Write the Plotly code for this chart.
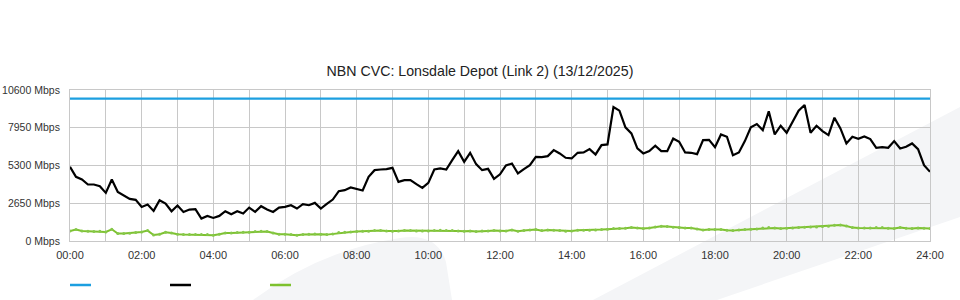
import plotly.graph_objects as go

# ---- data (Mbps, sampled every 10 minutes from 00:00 to 24:00) ----
minutes = list(range(0, 24 * 60 + 1, 10))

capacity = [10000] * len(minutes)

traffic = [
    5208, 4504, 4317, 3965, 3965, 3848, 3379, 4317, 3449, 3191, 2957, 2886,
    2394, 2558, 2112, 2863, 2629, 2089, 2488, 2042, 2206, 2230, 1573, 1761,
    1620, 1761, 2089, 1878, 2089, 1925, 2347, 2042, 2441, 2206, 2042, 2347,
    2400,
    2511, 2277, 2582, 2511, 2675, 2277, 2605, 2910, 3496, 3566, 3754, 3660,
    3543, 4504, 4973, 5020, 5043, 5137, 4152, 4270, 4270, 3988, 3730, 4082,
    5020, 5090, 5020, 5676, 6310, 5559, 6192, 5395, 4973, 5067, 4363, 4680,
    5301, 5442, 4739, 5043, 5325, 5911, 5888, 5958, 6380, 6146, 5840, 5794,
    6192, 6216, 6450, 6075, 6731, 6779, 9400, 9150, 7975, 7553, 6497, 6146,
    6310, 6685, 6310, 6310, 7201, 6966, 6216, 6192, 6099, 7083, 7100, 6590,
    7482, 7318, 6028, 6216, 7013, 7975, 8209, 7787, 9100, 7482, 8091, 7599,
    8420, 9146, 9545, 7599, 8091, 7716, 7435, 8654, 7904, 6849, 7318, 7177,
    7341, 7154, 6544, 6591, 6544, 7013, 6497, 6614, 6849, 6450, 5325, 4856,
]

upstream = [
    706, 800, 706, 682, 659, 682, 635, 823, 518, 518, 541, 588,
    635, 729, 424, 471, 612, 565, 471, 448, 448, 448, 448, 448,
    401, 471, 565, 565, 588, 612, 612, 659, 682, 659, 565, 471,
    471,
    448, 400, 448, 471, 495, 471, 448, 495, 588, 612, 635, 659,
    682, 682, 729, 729, 706, 682, 706, 729, 729, 706, 706, 706,
    729, 753, 729, 729, 706, 682, 706, 659, 706, 706, 729, 694,
    706, 776, 682, 729, 776, 800, 729, 776, 753, 729, 682, 706,
    753, 753, 753, 776, 800, 823, 870, 870, 893, 940, 917, 870,
    917, 987, 1034, 1011, 964, 940, 917, 917, 846, 776, 800, 812,
    800, 753, 729, 776, 800, 823, 846, 917, 940, 917, 870, 893,
    917, 940, 964, 987, 987, 1011, 1034, 1104, 1128, 1057, 940, 917,
    917, 917, 940, 940, 893, 870, 940, 893, 870, 917, 893, 870,
]

y_ticks = [0, 2650, 5300, 7950, 10600]
y_tick_labels = [f"{v} Mbps" for v in y_ticks]
x_ticks = list(range(0, 25, 2))
x_tick_labels = [f"{h:02d}:00" for h in x_ticks]

title = "NBN CVC: Lonsdale Depot (Link 2) (13/12/2025)"

BLUE = "#1c9fe0"
BLACK = "#000000"
GREEN = "#7dc12e"

hours = [m / 60 for m in minutes]

fig = go.Figure()
fig.add_trace(go.Scatter(x=hours, y=capacity, mode="lines",
                         line=dict(color=BLUE, width=2.2), showlegend=False))
fig.add_trace(go.Scatter(x=hours, y=traffic, mode="lines",
                         line=dict(color=BLACK, width=2.2), showlegend=False))
fig.add_trace(go.Scatter(x=hours, y=upstream, mode="lines+markers",
                         line=dict(color=GREEN, width=2),
                         marker=dict(color="#86c84a", size=3), showlegend=False))

# ---- layout geometry helpers (page pixels -> paper coords) ----
L, R, T, B = 70, 30, 90, 59
W, H = 960, 300
PW, PH = W - L - R, H - T - B


def px(x):
    return (x - L) / PW


def py(y):
    return (H - B - y) / PH


def path(points):
    s = ""
    for cmd, pts in points:
        s += cmd + " ".join(f"{px(a):.4f},{py(b):.4f}" for a, b in pts) + " "
    return s + "Z"


shapes = []
# faint decorative background shapes
shapes.append(dict(type="path", xref="paper", yref="paper", layer="below",
                   line=dict(width=0), fillcolor="#f4f5f7",
                   path=path([("M", [(253, 300)]), ("Q", [(320, 250), (400, 238)]),
                              ("Q", [(437, 232), (446, 262)]), ("L", [(452, 300)])])))
shapes.append(dict(type="path", xref="paper", yref="paper", layer="below",
                   line=dict(width=0), fillcolor="#f4f5f7",
                   path=path([("M", [(593, 300)]), ("L", [(960, 107)]),
                              ("L", [(960, 217)]), ("L", [(717, 300)])])))
# legend swatches (no text in the original)
for x0, col in [(70, BLUE), (170, BLACK), (270, GREEN)]:
    shapes.append(dict(type="line", xref="paper", yref="paper",
                       x0=px(x0), x1=px(x0 + 21), y0=py(285), y1=py(285),
                       line=dict(color=col, width=2.5)))

FONT = "Liberation Sans, Arial, sans-serif"
GRID = "#c8c8c8"

fig.update_layout(
    width=W, height=H,
    margin=dict(l=L, r=R, t=T, b=B, autoexpand=False),
    paper_bgcolor="white",
    plot_bgcolor="rgba(0,0,0,0)",
    font=dict(family=FONT, size=11, color="#333333"),
    title=dict(text=title, x=0.5, xref="container", xanchor="center",
               y=1 - 71 / H, yref="container", yanchor="middle",
               font=dict(family=FONT, size=14.2, color="#222222")),
    shapes=shapes,
    showlegend=False,
)

fig.update_xaxes(
    range=[0, 24], tickmode="array", tickvals=x_ticks, ticktext=x_tick_labels,
    showgrid=True, gridcolor=GRID, gridwidth=1, zeroline=False,
    showline=True, linecolor=GRID, mirror=True, ticks="",
    minor=dict(dtick=1, tick0=0, showgrid=True, gridcolor=GRID, gridwidth=1),
    ticklabelstandoff=4,
    automargin=False, fixedrange=True,
)
fig.update_yaxes(
    range=[0, 10600], tickmode="array", tickvals=y_ticks, ticktext=y_tick_labels,
    tickfont=dict(size=10.5),
    showgrid=True, gridcolor=GRID, gridwidth=1, zeroline=False,
    showline=True, linecolor=GRID, mirror=True, ticks="",
    ticklabelstandoff=7,
    automargin=False, fixedrange=True,
)

fig.write_html("out.html")
